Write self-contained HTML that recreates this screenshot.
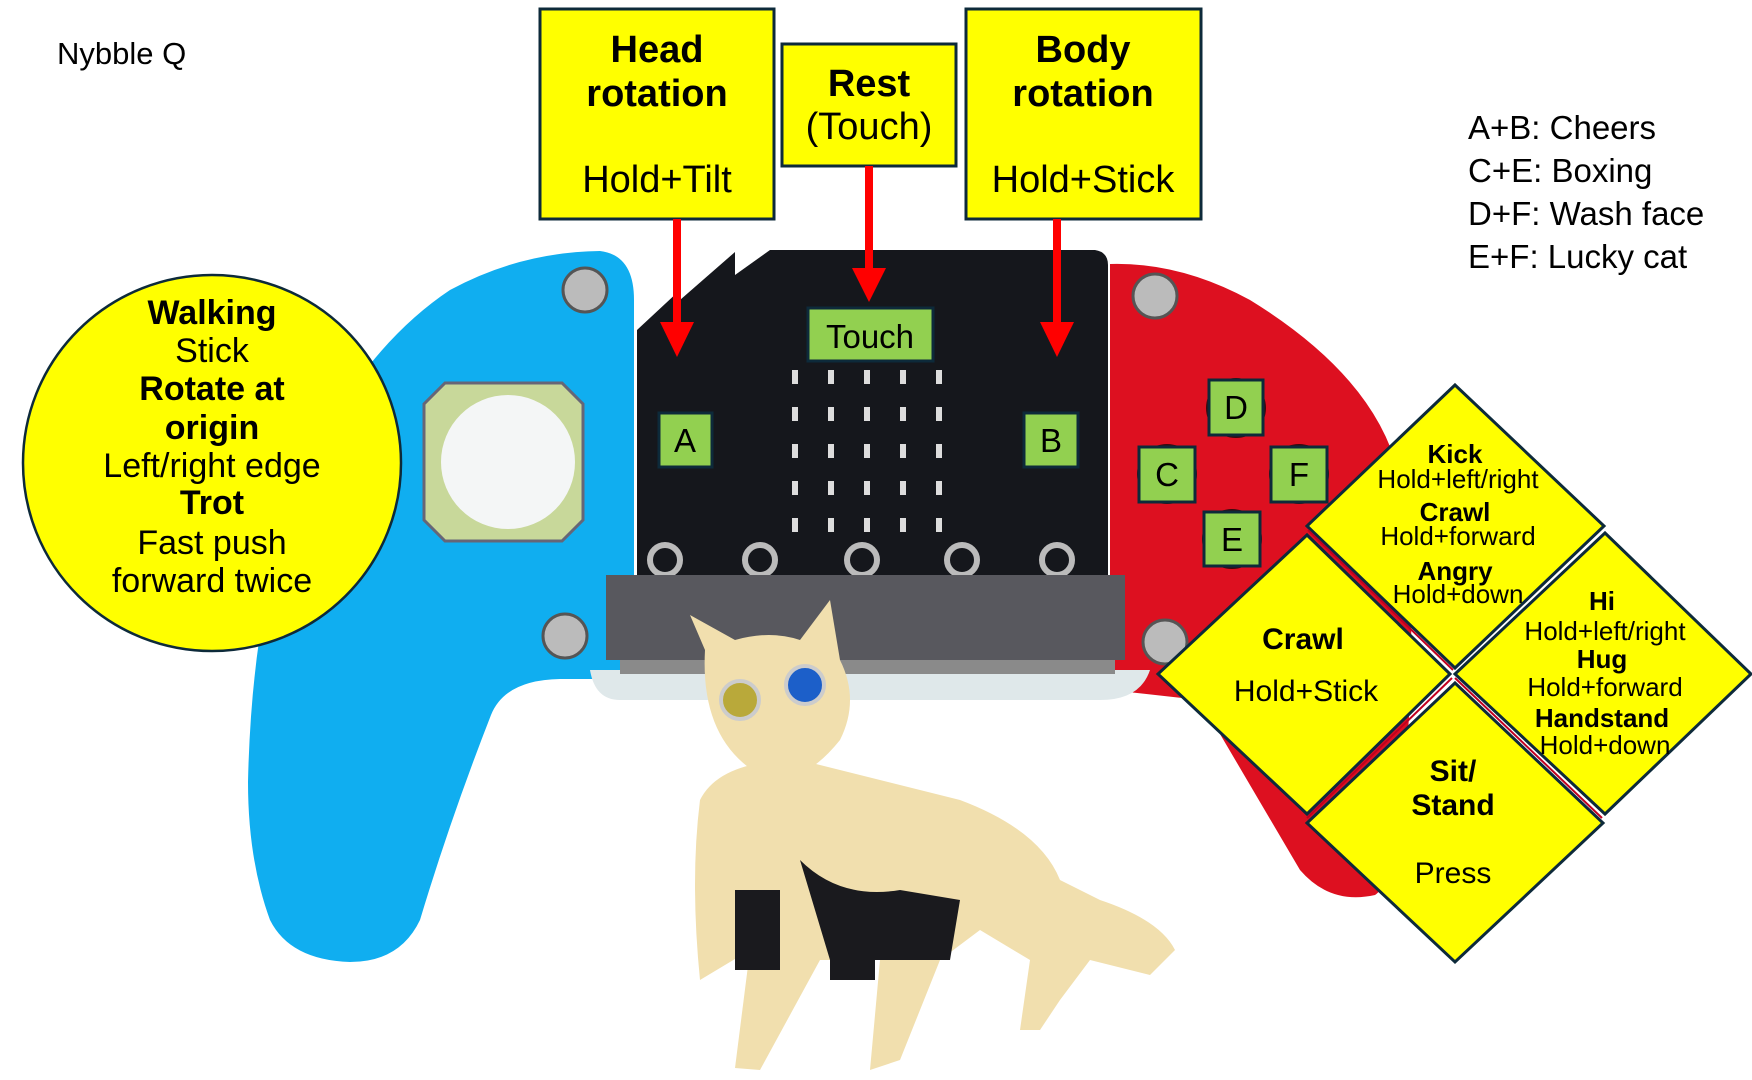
<!DOCTYPE html>
<html><head><meta charset="utf-8"><style>
html,body{margin:0;padding:0;background:#fff;}
svg{display:block;}
text{font-family:"Liberation Sans",sans-serif;}
</style></head><body>
<svg width="1752" height="1080" viewBox="0 0 1752 1080" xmlns="http://www.w3.org/2000/svg">
<path d="M600,251 Q634,255 634,300 L634,679 L560,679 Q505,680 491,715 Q450,820 420,920 Q400,962 350,962 Q290,960 270,920 Q248,860 248,782 Q252,600 300,480 Q360,350 450,290 Q520,252 600,251 Z" fill="#10aef0"/>
<path d="M1110,264 Q1180,262 1250,300 Q1380,380 1400,480 Q1415,560 1410,700 Q1400,880 1375,895 Q1330,905 1300,870 L1200,700 L1110,690 Z" fill="#dd1020"/>
<path d="M590,670 L1150,670 Q1140,700 1100,700 L620,700 Q595,700 590,670 Z" fill="#dfe8ea"/>
<path d="M637,330 L680,290 L680,300 L735,252 L735,275 L770,250 L1095,250 Q1108,252 1108,265 L1108,577 L637,577 Z" fill="#15171c"/>
<g fill="#ddd">
<rect x="792" y="370" width="6" height="14"/><rect x="828" y="370" width="6" height="14"/><rect x="864" y="370" width="6" height="14"/><rect x="900" y="370" width="6" height="14"/><rect x="936" y="370" width="6" height="14"/>
<rect x="792" y="407" width="6" height="14"/><rect x="828" y="407" width="6" height="14"/><rect x="864" y="407" width="6" height="14"/><rect x="900" y="407" width="6" height="14"/><rect x="936" y="407" width="6" height="14"/>
<rect x="792" y="444" width="6" height="14"/><rect x="828" y="444" width="6" height="14"/><rect x="864" y="444" width="6" height="14"/><rect x="900" y="444" width="6" height="14"/><rect x="936" y="444" width="6" height="14"/>
<rect x="792" y="481" width="6" height="14"/><rect x="828" y="481" width="6" height="14"/><rect x="864" y="481" width="6" height="14"/><rect x="900" y="481" width="6" height="14"/><rect x="936" y="481" width="6" height="14"/>
<rect x="792" y="518" width="6" height="14"/><rect x="828" y="518" width="6" height="14"/><rect x="864" y="518" width="6" height="14"/><rect x="900" y="518" width="6" height="14"/><rect x="936" y="518" width="6" height="14"/>
</g>
<g fill="none" stroke="#bbb" stroke-width="6">
<circle cx="665" cy="560" r="15"/><circle cx="760" cy="560" r="15"/><circle cx="862" cy="560" r="15"/><circle cx="962" cy="560" r="15"/><circle cx="1057" cy="560" r="15"/>
</g>
<rect x="606" y="575" width="519" height="85" fill="#58585e"/>
<rect x="620" y="660" width="495" height="14" fill="#8a8a8a"/>
<circle cx="585" cy="290" r="22" fill="#bbb" stroke="#555" stroke-width="3"/>
<circle cx="565" cy="636" r="22" fill="#bbb" stroke="#555" stroke-width="3"/>
<circle cx="1155" cy="296" r="22" fill="#bbb" stroke="#555" stroke-width="3"/>
<circle cx="1165" cy="642" r="22" fill="#bbb" stroke="#555" stroke-width="3"/>
<path d="M445,383 L562,383 L583,404 L583,520 L562,541 L445,541 L424,520 L424,404 Z" fill="#c8d89a" stroke="#667" stroke-width="3"/>
<circle cx="508" cy="462" r="67" fill="#f4f6f6"/>
<g fill="#3a0a0e"><circle cx="1236" cy="408" r="30"/><circle cx="1167" cy="474" r="30"/><circle cx="1299" cy="474" r="30"/><circle cx="1232" cy="539" r="30"/></g>
<g fill="#f1dfae">
<path d="M700,980 Q690,880 700,800 Q720,760 800,760 L960,800 Q1040,830 1060,880 L1100,900 Q1160,920 1175,950 L1150,975 L1090,960 L1060,1000 L1040,1030 L1020,1030 L1030,960 L980,930 L940,960 L900,1060 L870,1070 L880,960 L820,960 L760,1070 L735,1068 L750,950 Z"/>
<path d="M705,650 L690,615 L735,640 Q770,630 800,640 L830,600 L840,660 Q860,700 840,740 Q800,790 760,775 Q700,740 705,650 Z"/>
</g>
<path d="M800,860 Q840,900 900,890 L960,900 L950,960 L830,960 Z" fill="#1a1a1e"/>
<rect x="735" y="890" width="45" height="80" fill="#1a1a1e"/>
<rect x="830" y="920" width="45" height="60" fill="#1a1a1e"/>
<circle cx="740" cy="700" r="19" fill="#b9a93a" stroke="#ccc" stroke-width="4"/>
<circle cx="805" cy="685" r="19" fill="#1c5fc9" stroke="#ccc" stroke-width="4"/>
<ellipse cx="212" cy="463" rx="189" ry="188" fill="#ffff00" stroke="#0d2a3a" stroke-width="2.5"/>
<g text-anchor="middle" font-size="34" fill="#000">
<text x="212" y="324" font-weight="bold">Walking</text>
<text x="212" y="362">Stick</text>
<text x="212" y="400" font-weight="bold">Rotate at</text>
<text x="212" y="439" font-weight="bold">origin</text>
<text x="212" y="477">Left/right edge</text>
<text x="212" y="514" font-weight="bold">Trot</text>
<text x="212" y="554">Fast push</text>
<text x="212" y="592">forward twice</text>
</g>
<text x="57" y="64" font-size="31" fill="#000">Nybble Q</text>
<rect x="540" y="9" width="234" height="210" fill="#ffff00" stroke="#0d2a3a" stroke-width="3"/>
<rect x="782" y="44" width="174" height="122" fill="#ffff00" stroke="#0d2a3a" stroke-width="3"/>
<rect x="966" y="9" width="235" height="210" fill="#ffff00" stroke="#0d2a3a" stroke-width="3"/>
<g text-anchor="middle" font-size="38" fill="#000">
<text x="657" y="62" font-weight="bold">Head</text>
<text x="657" y="106" font-weight="bold">rotation</text>
<text x="657" y="192">Hold+Tilt</text>
<text x="869" y="96" font-weight="bold">Rest</text>
<text x="869" y="139">(Touch)</text>
<text x="1083" y="62" font-weight="bold">Body</text>
<text x="1083" y="106" font-weight="bold">rotation</text>
<text x="1083" y="192">Hold+Stick</text>
</g>
<g fill="#ff0000">
<rect x="673" y="219" width="8" height="105"/><path d="M660,322 L694,322 L677,357 Z"/>
<rect x="865" y="166" width="8" height="104"/><path d="M852,268 L886,268 L869,302 Z"/>
<rect x="1053" y="219" width="8" height="105"/><path d="M1040,322 L1074,322 L1057,357 Z"/>
</g>
<g fill="#92d050" stroke="#0d2a3a" stroke-width="3">
<rect x="808" y="308" width="125" height="53"/>
<rect x="659" y="413" width="53" height="54"/>
<rect x="1024" y="413" width="54" height="54"/>
<rect x="1209" y="380" width="54" height="55"/>
<rect x="1139" y="447" width="56" height="55"/>
<rect x="1271" y="447" width="56" height="55"/>
<rect x="1204" y="512" width="56" height="54"/>
</g>
<g text-anchor="middle" font-size="33" fill="#000">
<text x="870" y="348">Touch</text>
<text x="685" y="452">A</text>
<text x="1051" y="452">B</text>
<text x="1236" y="419">D</text>
<text x="1167" y="486">C</text>
<text x="1299" y="486">F</text>
<text x="1232" y="551">E</text>
</g>
<g font-size="33" fill="#000">
<text x="1468" y="139">A+B: Cheers</text>
<text x="1468" y="182">C+E: Boxing</text>
<text x="1468" y="225">D+F: Wash face</text>
<text x="1468" y="268">E+F: Lucky cat</text>
</g>
<g fill="#ffff00" stroke="#0d2a3a" stroke-width="3">
<path d="M1455,385 L1604,526 L1455,668 L1307,526 Z"/>
<path d="M1307,535 L1450,674 L1307,814 L1158,674 Z"/>
<path d="M1605,533 L1751,674 L1605,814 L1455,674 Z"/>
<path d="M1455,683 L1603,823 L1455,962 L1307,823 Z"/>
</g>
<g stroke="#c00020" stroke-width="2" fill="none">
<path d="M1308,530 L1453,670"/><path d="M1307,818 L1452,678"/><path d="M1455,678 L1602,818"/>
</g>
<g text-anchor="middle" fill="#000">
<g font-size="26">
<text x="1455" y="463" font-weight="bold">Kick</text>
<text x="1458" y="488">Hold+left/right</text>
<text x="1455" y="521" font-weight="bold">Crawl</text>
<text x="1458" y="545">Hold+forward</text>
<text x="1455" y="580" font-weight="bold">Angry</text>
<text x="1458" y="603">Hold+down</text>
<text x="1602" y="610" font-weight="bold">Hi</text>
<text x="1605" y="640">Hold+left/right</text>
<text x="1602" y="668" font-weight="bold">Hug</text>
<text x="1605" y="696">Hold+forward</text>
<text x="1602" y="727" font-weight="bold">Handstand</text>
<text x="1605" y="754">Hold+down</text>
</g>
<g font-size="30">
<text x="1303" y="649" font-weight="bold">Crawl</text>
<text x="1306" y="701">Hold+Stick</text>
<text x="1453" y="781" font-weight="bold">Sit/</text>
<text x="1453" y="815" font-weight="bold">Stand</text>
<text x="1453" y="883">Press</text>
</g>
</g>
</svg>
</body></html>
